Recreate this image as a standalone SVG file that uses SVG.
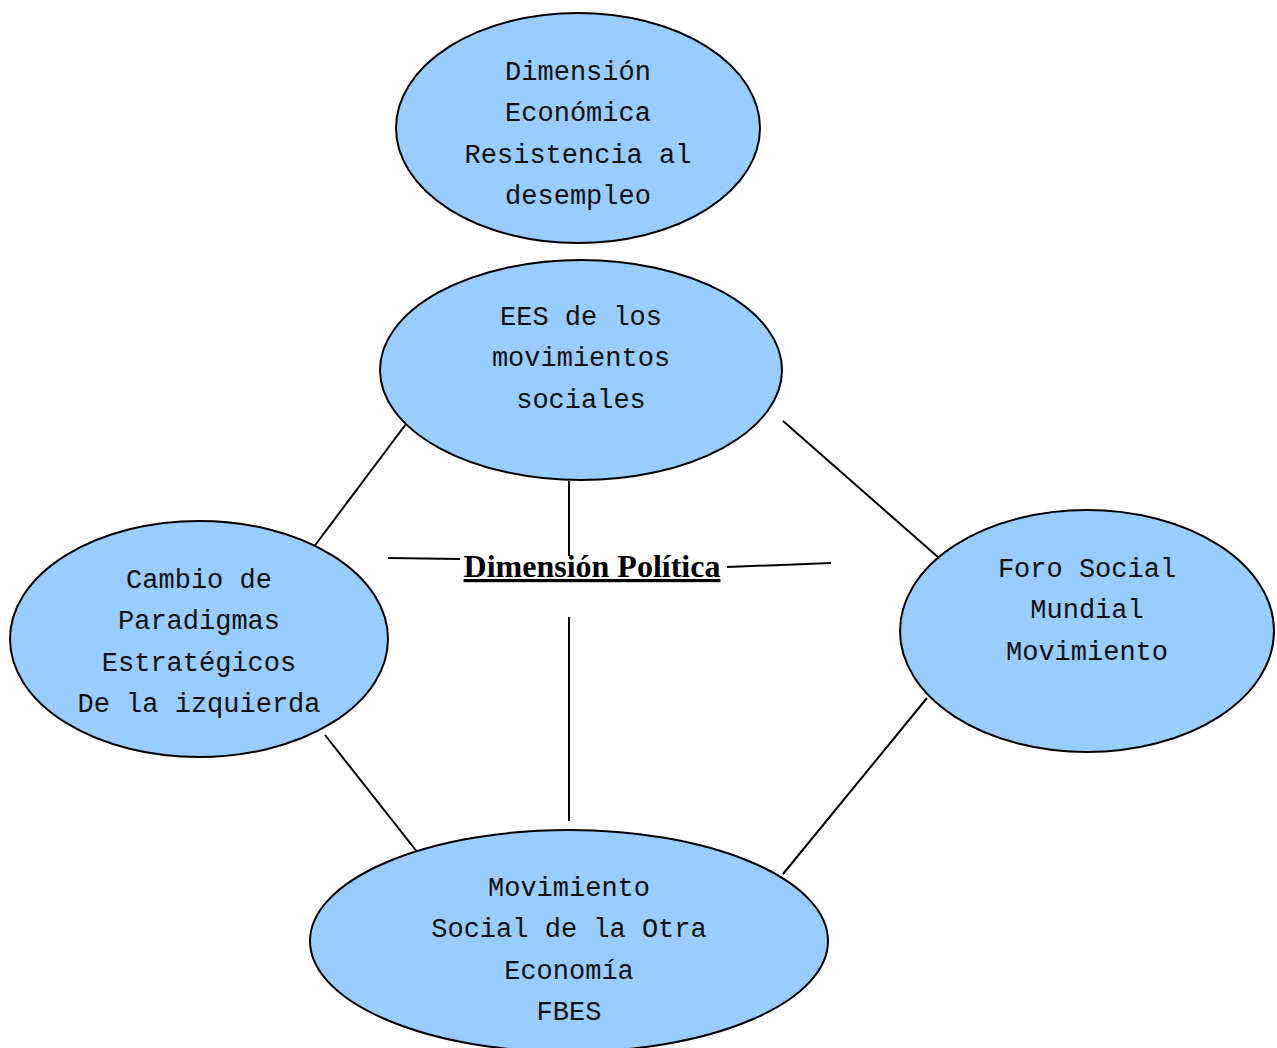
<svg xmlns="http://www.w3.org/2000/svg" width="1277" height="1048" viewBox="0 0 1277 1048">
<style>
.node ellipse{fill:#99ccff;stroke:#000;stroke-width:2}
.node text{font-family:"Liberation Mono","DejaVu Sans Mono",monospace;font-size:27px;fill:#111;text-anchor:middle}
#connectors line{stroke:#000;stroke-width:2}
.title{font-family:"Liberation Serif","Times New Roman",serif;font-weight:bold;font-size:32px;fill:#000}
</style>
<rect width="1277" height="1048" fill="#fff"/>
<g id="connectors">
<line x1="409" y1="420" x2="307" y2="556"/>
<line x1="783" y1="421" x2="947" y2="565"/>
<line x1="569" y1="481" x2="569" y2="556"/>
<line x1="388" y1="558" x2="460" y2="559"/>
<line x1="727" y1="567" x2="831" y2="563"/>
<line x1="569" y1="617" x2="569" y2="821"/>
<line x1="325" y1="735" x2="418" y2="853"/>
<line x1="927" y1="698" x2="783" y2="874"/>
</g>
<g id="n1" class="node">
<ellipse cx="578" cy="128" rx="182" ry="115"/>
<text x="578" y="80">Dimensión</text>
<text x="578" y="121">Económica</text>
<text x="578" y="163">Resistencia al</text>
<text x="578" y="204">desempleo</text>
</g>
<g id="n2" class="node">
<ellipse cx="581" cy="370" rx="201" ry="110"/>
<text x="581" y="325">EES de los</text>
<text x="581" y="366">movimientos</text>
<text x="581" y="408">sociales</text>
</g>
<g id="n3" class="node">
<ellipse cx="199" cy="639" rx="189" ry="118"/>
<text x="199" y="588">Cambio de</text>
<text x="199" y="629">Paradigmas</text>
<text x="199" y="671">Estratégicos</text>
<text x="199" y="712">De la izquierda</text>
</g>
<g id="n4" class="node">
<ellipse cx="1087" cy="631" rx="187" ry="121"/>
<text x="1087" y="577">Foro Social</text>
<text x="1087" y="618">Mundial</text>
<text x="1087" y="660">Movimiento</text>
</g>
<g id="n5" class="node">
<ellipse cx="569" cy="941" rx="259" ry="111"/>
<text x="569" y="896">Movimiento</text>
<text x="569" y="937">Social de la Otra</text>
<text x="569" y="979">Economía</text>
<text x="569" y="1020">FBES</text>
</g>
<g id="center">
<text class="title" x="592" y="577" text-anchor="middle" text-decoration="underline">Dimensión Política</text>
</g>
</svg>
